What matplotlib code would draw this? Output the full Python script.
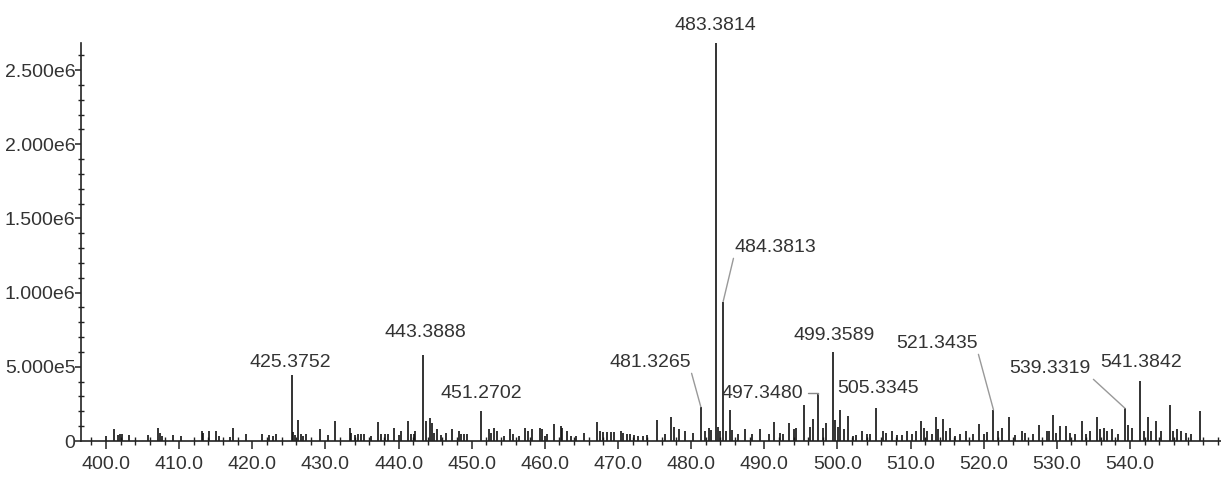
import matplotlib
matplotlib.use('Agg')
import matplotlib.pyplot as plt
from matplotlib.ticker import MultipleLocator, FixedLocator

plt.rcParams['font.family'] = ['Liberation Sans', 'DejaVu Sans']

# peak positions (m/z) and intensities (in units of 1e5)
mz = [400.0, 401.1, 401.7, 401.9, 402.2, 403.2, 405.7, 407.1, 407.4, 407.7,
      409.1, 410.2, 413.1, 413.3, 414.1, 415.1, 415.4, 417.0, 417.3, 419.2,
      421.3, 422.3, 422.9, 423.2, 425.3752, 425.55, 425.8, 426.3, 426.6, 427.0,
      427.3, 429.2, 430.3, 431.3, 433.3, 433.5, 434.0, 434.4, 434.9, 435.3,
      436.2, 437.2, 437.6, 438.2, 438.6, 439.4, 440.0, 440.4, 441.3, 441.7,
      442.1, 442.3, 443.3888, 443.75, 444.3, 444.6, 444.8, 445.3, 445.8, 446.5,
      447.3, 448.2, 448.6, 449.0, 449.3, 451.2702, 452.3, 452.6, 453.1, 453.4,
      454.4, 455.2, 455.6, 456.4, 457.3, 457.7, 458.3, 459.3, 459.6, 460.0,
      460.3, 461.3, 462.2, 462.4, 463.0, 463.6, 464.3, 465.4, 467.2, 467.5,
      467.9, 468.5, 469.1, 469.5, 470.4, 470.7, 471.2, 471.7, 472.2, 472.8,
      473.4, 473.9, 475.4, 476.4, 477.3, 477.7, 478.3, 479.2, 480.3, 481.3265,
      481.9, 482.4, 482.7, 483.3814, 483.7, 484.0, 484.3813, 484.8, 485.3, 485.6,
      486.45, 487.4, 488.3, 489.4, 490.6, 491.3, 492.2, 492.5, 493.4, 494.1,
      494.4, 495.4, 496.2, 496.6, 497.348, 498.0, 498.5, 499.3589, 499.7, 500.1,
      500.35, 500.9, 501.4, 502.1, 502.5, 503.3, 504.0, 504.5, 505.3345, 506.3,
      506.7, 507.4, 508.1, 508.8, 509.5, 510.2, 510.7, 511.4, 511.8, 512.3,
      512.9, 513.5, 513.8, 514.4, 514.8, 515.4, 516.1, 516.8, 517.6, 518.5,
      519.4, 520.0, 520.4, 521.3435, 522.0, 522.5, 523.5, 524.3, 525.2, 525.6,
      526.8, 527.5, 528.6, 529.0, 529.5, 529.9, 530.5, 531.3, 531.8, 532.5,
      533.5, 534.0, 534.5, 535.5, 535.9, 536.4, 536.9, 537.5, 538.4, 539.3319,
      539.8, 540.3, 541.3842, 541.9, 542.5, 542.9, 543.6, 544.3, 545.5, 545.9,
      546.4, 547.0, 547.7, 548.4, 549.6]
intensity_e5 = [0.35, 0.8, 0.4, 0.45, 0.45, 0.4, 0.4, 0.9, 0.55, 0.35,
                0.4, 0.35, 0.65, 0.55, 0.65, 0.65, 0.35, 0.3, 0.85, 0.45,
                0.5, 0.4, 0.35, 0.45, 4.45, 0.6, 0.4, 1.4, 0.45, 0.35,
                0.5, 0.8, 0.4, 1.35, 0.9, 0.55, 0.4, 0.45, 0.45, 0.5,
                0.35, 1.3, 0.5, 0.5, 0.45, 0.9, 0.4, 0.65, 1.35, 0.45,
                0.45, 0.65, 5.8, 1.35, 1.55, 1.2, 0.55, 0.8, 0.4, 0.55,
                0.8, 0.65, 0.45, 0.5, 0.5, 2.0, 0.8, 0.55, 0.9, 0.65,
                0.35, 0.8, 0.5, 0.35, 0.85, 0.65, 0.8, 0.9, 0.8, 0.35,
                0.45, 1.15, 1.0, 0.9, 0.7, 0.35, 0.35, 0.55, 1.3, 0.65,
                0.6, 0.6, 0.6, 0.6, 0.7, 0.55, 0.5, 0.45, 0.4, 0.35,
                0.35, 0.4, 1.4, 0.5, 1.65, 0.95, 0.8, 0.65, 0.55, 2.3,
                0.65, 0.85, 0.75, 26.8, 0.95, 0.65, 9.4, 0.65, 2.1, 0.75,
                0.5, 0.8, 0.5, 0.8, 0.5, 1.3, 0.55, 0.5, 1.2, 0.8,
                0.85, 2.45, 0.95, 1.45, 3.2, 0.85, 1.2, 6.0, 1.4, 0.95,
                2.1, 0.8, 1.7, 0.35, 0.4, 0.7, 0.5, 0.45, 2.25, 0.65,
                0.55, 0.65, 0.4, 0.4, 0.7, 0.5, 0.65, 1.35, 0.85, 0.65,
                0.5, 1.6, 0.8, 1.45, 0.7, 0.85, 0.35, 0.45, 0.7, 0.45,
                1.15, 0.5, 0.6, 2.1, 0.65, 0.85, 1.6, 0.4, 0.65, 0.55,
                0.45, 1.1, 0.7, 0.65, 1.75, 0.55, 1.0, 1.0, 0.55, 0.45,
                1.35, 0.45, 0.7, 1.6, 0.8, 0.85, 0.65, 0.8, 0.45, 2.2,
                1.1, 0.9, 4.05, 0.65, 1.6, 0.7, 1.35, 0.7, 2.45, 0.65,
                0.8, 0.65, 0.55, 0.45, 2.05]
intensity = [v * 1e5 for v in intensity_e5]

# labelled peaks
labels = ['425.3752', '443.3888', '451.2702', '481.3265', '483.3814', '484.3813',
          '497.3480', '499.3589', '505.3345', '521.3435', '539.3319', '541.3842']

x_ticks = [400, 410, 420, 430, 440, 450, 460, 470, 480, 490, 500, 510, 520, 530, 540]
x_ticklabels = ['%.1f' % t for t in x_ticks]
y_ticks = [0, 5e5, 1e6, 1.5e6, 2e6, 2.5e6]
y_ticklabels = ['0', '5.000e5', '1.000e6', '1.500e6', '2.000e6', '2.500e6']

FS = 14

fig = plt.figure(figsize=(12.21, 4.79), dpi=100)
ax = fig.add_axes([81 / 1221, 38 / 479, 1 - 81 / 1221, 398 / 479])

ax.vlines(mz, 0, intensity, color='#111111', lw=1.2)

ax.set_xlim(396.58, 552.45)
ax.set_ylim(0, 2.682e6)

for s in ['top', 'right']:
    ax.spines[s].set_visible(False)
for s in ['left', 'bottom']:
    ax.spines[s].set_color('#222222')
    ax.spines[s].set_linewidth(1.2)

ax.xaxis.set_major_locator(FixedLocator(x_ticks))
ax.set_xticklabels(x_ticklabels)
ax.xaxis.set_minor_locator(MultipleLocator(2))
ax.yaxis.set_major_locator(FixedLocator(y_ticks))
ax.set_yticklabels(y_ticklabels)
ax.yaxis.set_minor_locator(MultipleLocator(1e5))

ax.tick_params(axis='x', which='major', direction='out', length=6, width=1.1,
               pad=5, labelsize=FS, colors='#222222', labelcolor='#333333')
ax.tick_params(axis='x', which='minor', direction='inout', length=6, width=1.0,
               colors='#222222')
ax.tick_params(axis='y', which='major', direction='out', length=4, width=1.1,
               pad=0, labelsize=FS, colors='#222222', labelcolor='#333333')
ax.tick_params(axis='y', which='minor', direction='inout', length=5, width=1.0,
               colors='#222222')

# label layout: text position (data coords) and leader style
layout = {
    '425.3752': (425.2, 5.26e5, None),
    '443.3888': (443.6, 7.28e5, None),
    '451.2702': (451.27, 3.23e5, None),
    '481.3265': (474.38, 5.32e5, 'diag_r'),
    '483.3814': (483.38, 2.80e6, None),
    '484.3813': (491.47, 1.307e6, 'diag_l'),
    '497.3480': (489.69, 3.23e5, 'elbow'),
    '499.3589': (499.54, 7.08e5, None),
    '505.3345': (505.55, 3.57e5, None),
    '521.3435': (513.6, 6.6e5, 'diag_r'),
    '539.3319': (529.07, 4.9e5, 'diag_r'),
    '541.3842': (541.5, 5.32e5, None),
}

for lab in labels:
    px = float(lab)
    i = min(range(len(mz)), key=lambda k: abs(mz[k] - px))
    tx, ty, style = layout[lab]
    kw = dict(ha='center', va='center', fontsize=FS, color='#333333',
              annotation_clip=False)
    if style is None:
        ax.annotate(lab, xy=(mz[i], intensity[i]), xytext=(tx, ty), **kw)
    elif style == 'elbow':
        ax.annotate(lab, xy=(mz[i], intensity[i]), xytext=(tx, ty),
                    arrowprops=dict(arrowstyle='-', color='#888888', lw=1,
                                    relpos=(1, 0.5), shrinkA=2, shrinkB=0,
                                    connectionstyle='angle,angleA=0,angleB=90,rad=0'),
                    **kw)
    else:
        rel = (1, 0) if style == 'diag_r' else (0, 0)
        ax.annotate(lab, xy=(mz[i], intensity[i]), xytext=(tx, ty),
                    arrowprops=dict(arrowstyle='-', color='#999999', lw=1,
                                    relpos=rel, shrinkA=0, shrinkB=0),
                    **kw)

fig.savefig('out.png', dpi=100)
